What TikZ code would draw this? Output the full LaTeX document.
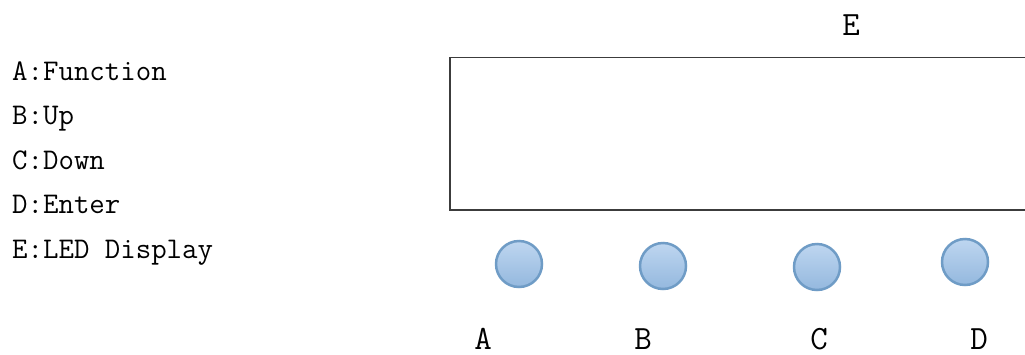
\documentclass[tikz,border=0pt]{standalone}
\usepackage{fontspec}
\begin{document}
\begin{tikzpicture}[x=1pt,y=-1pt,
  legend/.style={anchor=base west,inner sep=0pt,font=\fontsize{30}{36}\selectfont\ttfamily},
  keylabel/.style={anchor=base,inner sep=0pt,font=\fontsize{34}{40}\selectfont\ttfamily},
  keybtn/.style={circle,minimum size=46pt,inner sep=0pt,line width=2.5pt,draw={rgb,255:red,111;green,156;blue,198},
    top color={rgb,255:red,190;green,214;blue,240},bottom color={rgb,255:red,148;green,184;blue,222}},
  frame/.style={line width=1.6pt,draw={rgb,255:red,60;green,60;blue,60}}]
\useasboundingbox (0,0) rectangle (1025,354);
\fill[white] (0,0) rectangle (1025,354);
% legend
\node[legend] (la) at (12,80) {A:Function};
\node[legend] (lb) at (12,124.5) {B:Up};
\node[legend] (lc) at (12,169) {C:Down};
\node[legend] (ld) at (12,213.5) {D:Enter};
\node[legend] (le) at (12,258) {E:LED Display};
% display
\coordinate (tr) at (1025,57.5);
\coordinate (tl) at (450,57.5);
\coordinate (bl) at (450,210);
\coordinate (br) at (1025,210);
\draw[frame] (tr) -- (tl) -- (bl) -- (br);
\node[keylabel] (e) at (851,35) {E};
% buttons
\node[keybtn] (ka) at (519,264) {};
\node[keybtn] (kb) at (663,266) {};
\node[keybtn] (kc) at (817,267) {};
\node[keybtn] (kd) at (965,262) {};
\node[keylabel] (a) at (483,349) {A};
\node[keylabel] (b) at (643,349) {B};
\node[keylabel] (c) at (819,349) {C};
\node[keylabel] (d) at (979,349) {D};
\end{tikzpicture}
\end{document}
